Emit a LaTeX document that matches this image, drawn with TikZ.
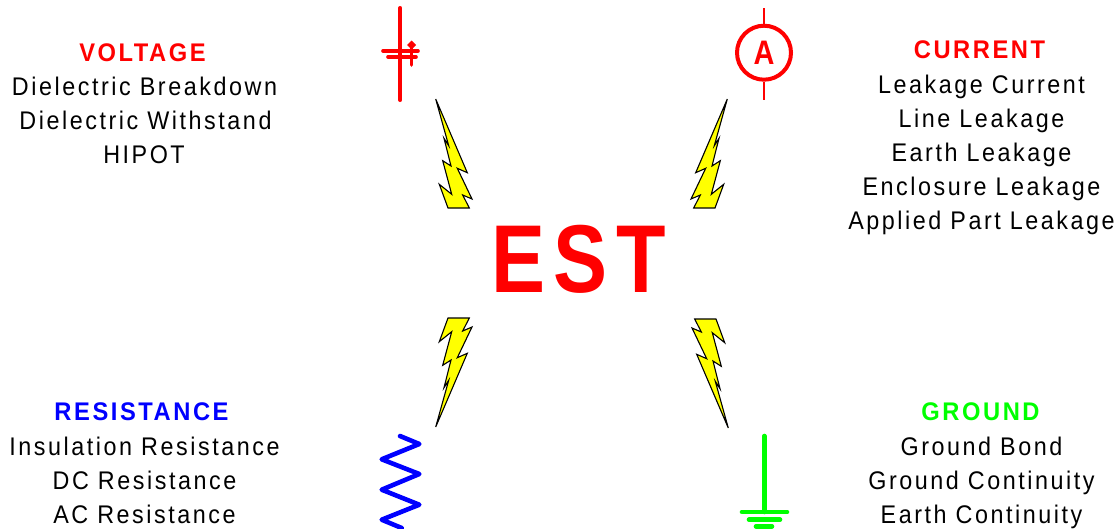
\documentclass[tikz,border=0pt]{standalone}
\usepackage{fontspec}
\setmainfont{Liberation Sans}
\newfontfamily\bodyf[LetterSpace=10,FakeStretch=0.915]{Liberation Sans}
\newfontfamily\headf[LetterSpace=10,FakeStretch=0.93]{Liberation Sans Bold}
\newfontfamily\bigf[LetterSpace=9,FakeStretch=0.84]{Liberation Sans Bold}
\newfontfamily\ampf[FakeStretch=0.85]{Liberation Sans Bold}
\definecolor{myred}{RGB}{255,0,0}
\definecolor{myblue}{RGB}{0,0,255}
\definecolor{mygreen}{RGB}{0,255,0}
\definecolor{myyellow}{RGB}{255,255,0}
\tikzset{
 body/.style={font=\bodyf\fontsize{25.5}{34}\selectfont,align=center,inner sep=0pt,anchor=base},
 head/.style={font=\headf\fontsize{25.5}{34}\selectfont,inner sep=0pt,anchor=base},
 sym/.style={line width=4.6pt,line cap=round,line join=round},
 capline/.style={line width=3.6pt,line cap=round,line join=round},
 bolt/.style={draw=black,fill=myyellow,line width=1.1pt,line join=miter},
}
\newcommand{\boltpath}{(435.7,99) -- (467.3,172.7) -- (457.3,168.3) -- (472,199) -- (462.7,195) -- (469.3,208) -- (448,208) -- (439.3,184.3) -- (451.7,194.3) -- (442.7,160.7) -- (451,166) -- (444,138.3) -- (448.7,145.7) -- cycle}
\begin{document}
\begin{tikzpicture}[x=1pt,y=-1pt]
\useasboundingbox (0,0) rectangle (1120,528);
% bolts
\path[bolt] \boltpath;
\begin{scope}[shift={(1163,0)},xscale=-1]\path[bolt] \boltpath;\end{scope}
\begin{scope}[shift={(0,526)},yscale=-1]\path[bolt] \boltpath;\end{scope}
\begin{scope}[shift={(1164,527)},xscale=-1,yscale=-1]\path[bolt] \boltpath;\end{scope}
% capacitor
\draw[capline,line width=4pt,myred] (400.3,8) -- (400.3,100);
\draw[capline,myred] (383,51) -- (418,51);
\draw[capline,myred] (388,57) -- (416,57);
\draw[capline,myred] (411.5,45) -- (411.5,65);
\fill[myred] (411.5,40.5) -- (416,45) -- (411.5,49.5) -- (407,45) -- cycle;
% ammeter
\node[circle,draw=myred,line width=4pt,minimum size=54pt,inner sep=0pt,text=myred,font=\ampf\fontsize{34}{34}\selectfont] (am) at (764,52.7) {A};
\coordinate (amt) at (764,8);
\coordinate (amb) at (764,100);
\draw[myred,line width=2.2pt] (amt) -- (am.north);
\draw[myred,line width=2.2pt] (am.south) -- (amb);
% resistor
\draw[sym,myblue] (400,436) -- (419.3,444) -- (381.7,459.3) -- (419.3,474) -- (381.7,489.7) -- (419.3,504.7) -- (381.7,519.7) -- (401.7,528);
% ground
\draw[sym,mygreen] (764.3,436) -- (764.3,512);
\draw[sym,mygreen] (742,512) -- (787,512);
\draw[sym,mygreen] (749,519.7) -- (780,519.7);
\draw[sym,mygreen] (756,526.3) -- (772,526.3);
% center
\node[font=\bigf\fontsize{96.4}{96}\selectfont,text=myred,inner sep=0pt,anchor=base] (est) at (578.5,292) {EST};
% texts
\node[head,text=myred] (v) at (142.5,61) {VOLTAGE};
\node[body] (v1) at (144.5,95) {Dielectric Breakdown};
\node[body] (v2) at (145.5,129) {Dielectric Withstand};
\node[body] (v3) at (144,163) {HIPOT};
\node[head,text=myred] (c) at (979.5,58) {CURRENT};
\node[body] (c1) at (981.5,93) {Leakage Current};
\node[body] (c2) at (981.5,127) {Line Leakage};
\node[body] (c3) at (981.5,161) {Earth Leakage};
\node[body] (c4) at (981.5,195) {Enclosure Leakage};
\node[body] (c5) at (981.5,229) {Applied Part Leakage};
\node[head,text=myblue] (r) at (141.5,420) {RESISTANCE};
\node[body] (r1) at (144.5,455) {Insulation Resistance};
\node[body] (r2) at (144.5,489) {DC Resistance};
\node[body] (r3) at (144.5,523) {AC Resistance};
\node[head,text=mygreen] (g) at (980.5,420) {GROUND};
\node[body] (g1) at (981.5,455) {Ground Bond};
\node[body] (g2) at (981.5,489) {Ground Continuity};
\node[body] (g3) at (981.5,523) {Earth Continuity};
\end{tikzpicture}
\end{document}
